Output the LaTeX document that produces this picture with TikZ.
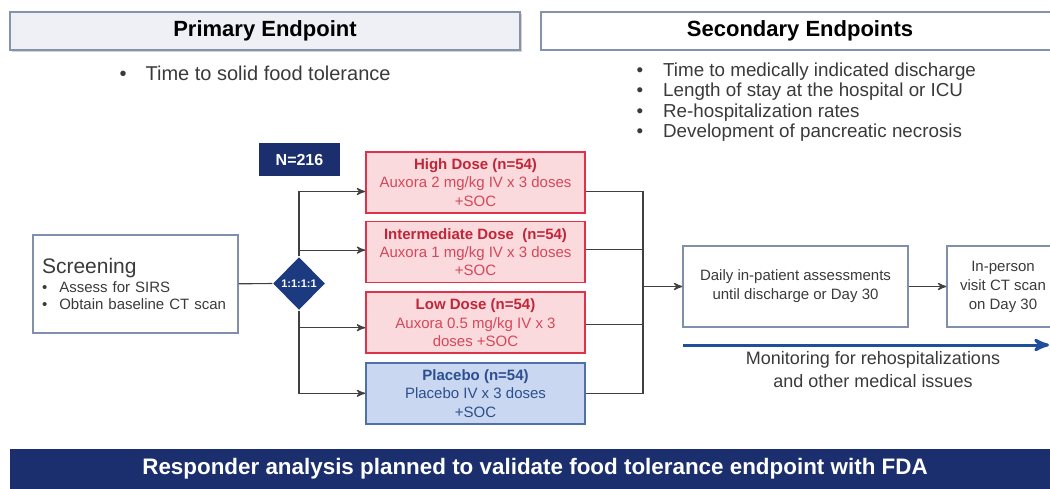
\documentclass[tikz,border=0pt]{standalone}
\usepackage{fontspec}
\setmainfont{Liberation Sans}
\usepackage{tikz}
\usetikzlibrary{positioning, arrows, shapes.geometric, shadows}

\definecolor{navy}{HTML}{1B2F6E}
\definecolor{navydia}{HTML}{1B3A80}
\definecolor{hdrline}{HTML}{8692AA}
\definecolor{hdrfill}{HTML}{EEF0F5}
\definecolor{boxline}{HTML}{8090AA}
\definecolor{dosered}{HTML}{E0304A}
\definecolor{dosepink}{HTML}{FADADD}
\definecolor{dosetitle}{HTML}{C0263A}
\definecolor{dosetext}{HTML}{D6475A}
\definecolor{plcfill}{HTML}{C9D8F0}
\definecolor{plcline}{HTML}{5070A8}
\definecolor{plctext}{HTML}{2D4E8F}
\definecolor{monblue}{HTML}{1F4E9A}
\definecolor{bodygray}{HTML}{3A3A3A}

\begin{document}
\begin{tikzpicture}[x=0.5pt, y=-0.5pt, >=stealth', semithick, node distance=3.5pt,
    header/.style={draw=hdrline, line width=1pt, minimum height=19pt, inner sep=0pt,
        font=\bfseries\fontsize{11}{13}\selectfont},
    dose/.style={draw=dosered, fill=dosepink, line width=0.8pt, minimum width=109.5pt,
        minimum height=30.5pt, inner sep=1pt, align=center, text=dosetext,
        font=\fontsize{7.5}{9.2}\selectfont},
    plainbox/.style={draw=boxline, line width=0.6pt, align=center, text=bodygray,
        font=\fontsize{7.5}{9.5}\selectfont},
    navybox/.style={fill=navy, text=white, inner sep=0pt}]
    \useasboundingbox (0,0) rectangle (1050,488);

    % endpoints
    \node[header, fill=hdrfill, minimum width=255pt,
        drop shadow={shadow xshift=0.8pt, shadow yshift=-0.8pt, opacity=0.35}] (primary) at (265,31) {Primary Endpoint};
    \node[header, fill=white, minimum width=259pt] (secondary) at (800,31) {Secondary Endpoints};
    \node[anchor=west, inner sep=0pt, text=bodygray, font=\fontsize{10}{12}\selectfont] (prim list) at (119,73)
        {\textbullet\hspace{9.5pt}Time to solid food tolerance};
    \node[anchor=west, inner sep=0pt, align=left, text=bodygray, font=\fontsize{9.4}{10.25}\selectfont] (sec list) at (636,102)
        {\textbullet\hspace{10pt}Time to medically indicated discharge\\
         \textbullet\hspace{10pt}Length of stay at the hospital or ICU\\
         \textbullet\hspace{10pt}Re-hospitalization rates\\
         \textbullet\hspace{10pt}Development of pancreatic necrosis};

    % screening and randomisation
    \node[navybox, minimum width=40.5pt, minimum height=16.5pt, font=\bfseries\fontsize{8}{10}\selectfont] (total) at (299.5,159.5) {N=216};
    \node[draw=boxline, line width=0.6pt, text width=93.5pt, inner xsep=4.5pt, minimum height=49pt, align=left,
        text=bodygray, font=\fontsize{7.5}{8.5}\selectfont] (screen) at (135.5,284)
        {{\fontsize{10.5}{12}\selectfont Screening}\\[1pt]
         \textbullet\hspace{6pt}Assess for SIRS\\
         \textbullet\hspace{6pt}Obtain baseline CT scan};
    \node[diamond, fill=navydia, minimum width=26pt, minimum height=26.5pt, inner sep=0pt,
        text=white, font=\bfseries\fontsize{5.5}{6}\selectfont] (ratio) at (299,283.5) {\makebox[0pt]{1:1:1:1}};

    % arms
    \node[dose] (high) at (475.5,182.5)
        {\textcolor{dosetitle}{\textbf{High Dose (n=54)}}\\Auxora 2 mg/kg IV x 3 doses\\+SOC};
    \node[dose, below=of high] (mid)
        {\textcolor{dosetitle}{\textbf{Intermediate Dose\ \ (n=54)}}\\Auxora 1 mg/kg IV x 3 doses\\+SOC};
    \node[dose, below=4pt of mid] (low)
        {\textcolor{dosetitle}{\textbf{Low Dose (n=54)}}\\Auxora 0.5 mg/kg IV x 3\\doses +SOC};
    \node[dose, below=4pt of low, draw=plcline, fill=plcfill, text=plctext] (placebo)
        {\textbf{Placebo (n=54)}\\Placebo IV x 3 doses\\+SOC};

    % follow-up
    \node[plainbox, minimum width=112.5pt, minimum height=40.5pt] (daily) at (795.5,286.5)
        {Daily in-patient assessments\\until discharge or Day 30};
    \node[plainbox, minimum width=56pt, minimum height=40.5pt] (visit) at (1003,286.5)
        {In-person\\visit CT scan\\on Day 30};
    \coordinate (join) at (643,286.5);
    \coordinate (mon start) at (683,345);
    \coordinate (mon end) at (1049,345);
    \node[text=bodygray, align=center, font=\fontsize{9}{11.5}\selectfont] (monitor) at (873,370)
        {Monitoring for rehospitalizations\\and other medical issues};

    \node[navybox, minimum width=525pt, minimum height=20pt, font=\bfseries\fontsize{11.2}{13}\selectfont] (banner) at (535,469)
        {Responder analysis planned to validate food tolerance endpoint with FDA};

    % connectors
    \draw[black!75] (screen) -- (ratio);
    \draw[black!75, ->] (ratio.north) |- ([yshift=-4.5pt]high.west);
    \draw[black!75, ->] (ratio.north) |- ([yshift=1pt]mid.west);
    \draw[black!75, ->] (ratio.south) |- ([yshift=-2.5pt]low.west);
    \draw[black!75, ->] (ratio.south) |- (placebo.west);
    \draw[black!75] ([yshift=-4.5pt]high.east) -| (join);
    \draw[black!75] ([yshift=1.5pt]mid.east) -| (join);
    \draw[black!75] ([yshift=-1pt]low.east) -| (join);
    \draw[black!75] (placebo.east) -| (join);
    \path[->, black!75]
    (join) edge (daily)
    (daily) edge (visit);
    \draw[->, monblue, line width=1.5pt] (mon start) -- (mon end);
\end{tikzpicture}
\end{document}
